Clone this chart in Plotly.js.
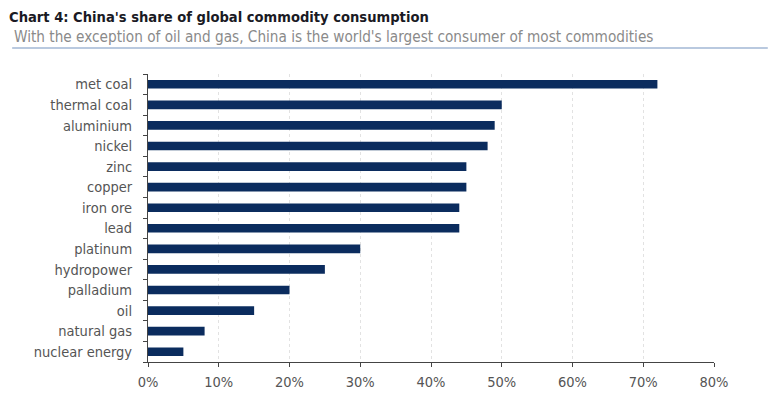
<!DOCTYPE html>
<html><head><meta charset="utf-8">
<script src="https://cdn.plot.ly/plotly-3.0.1.min.js"></script>
<style>body{margin:0;background:#fff}#c{width:768px;height:399px}</style>
</head><body><div id="c"></div>
<script>
const categories = ["met coal","thermal coal","aluminium","nickel","zinc","copper","iron ore","lead","platinum","hydropower","palladium","oil","natural gas","nuclear energy"];
const shares = [72,50,49,48,45,45,44,44,30,25,20,15,8,5];
const xTickVals = [0,10,20,30,40,50,60,70,80];
const xTickText = ["0%","10%","20%","30%","40%","50%","60%","70%","80%"];
const titleText = "Chart 4: China's share of global commodity consumption";
const subtitleText = "With the exception of oil and gas, China is the world's largest consumer of most commodities";

const font = "DejaVu Sans Condensed";
Plotly.newPlot("c", [{
  type: "bar", orientation: "h", y: categories, x: shares,
  marker: {color: "#0b2c5e"}, hoverinfo: "skip"
}], {
  width: 768, height: 399,
  margin: {l: 148, r: 54, t: 74, b: 37},
  paper_bgcolor: "#fff", plot_bgcolor: "#fff",
  bargap: 0.58, showlegend: false,
  font: {family: font, color: "#555", size: 14},
  xaxis: {range: [0, 80], tickvals: xTickVals, ticktext: xTickText,
    showgrid: true, gridcolor: "#e2e2e2", griddash: "dot", gridwidth: 1,
    showline: true, linecolor: "#444", linewidth: 1, ticks: "outside", ticklen: 4, tickcolor: "#444",
    ticklabelstandoff: 3,
    zeroline: false, tickfont: {size: 14.5, color: "#555", family: font}, fixedrange: true},
  yaxis: {type: "category", categoryorder: "array", categoryarray: categories.slice().reverse(),
    tickson: "boundaries", ticks: "outside", ticklen: 4, tickcolor: "#444",
    showline: true, linecolor: "#444", linewidth: 1, showgrid: false, ticklabelstandoff: 12,
    tickfont: {size: 14.5, color: "#555", family: font}, fixedrange: true},
  annotations: [
    {text: "<b>" + titleText + "</b>", xref: "paper", yref: "paper", x: -0.249, y: 1.198, xanchor: "left", yanchor: "middle", showarrow: false,
     font: {family: font, size: 14.6, color: "#1a1a24"}},
    {text: subtitleText, xref: "paper", yref: "paper", x: -0.24, y: 1.128, xanchor: "left", yanchor: "middle", showarrow: false,
     font: {family: font, size: 15.2, color: "#8a8a8a"}}
  ],
  shapes: [{type: "line", xref: "paper", yref: "paper", x0: -0.24, x1: 1.095, y0: 1.09, y1: 1.09,
    line: {color: "#b9c9df", width: 2}}]
}, {displayModeBar: false, staticPlot: true});
</script></body></html>
